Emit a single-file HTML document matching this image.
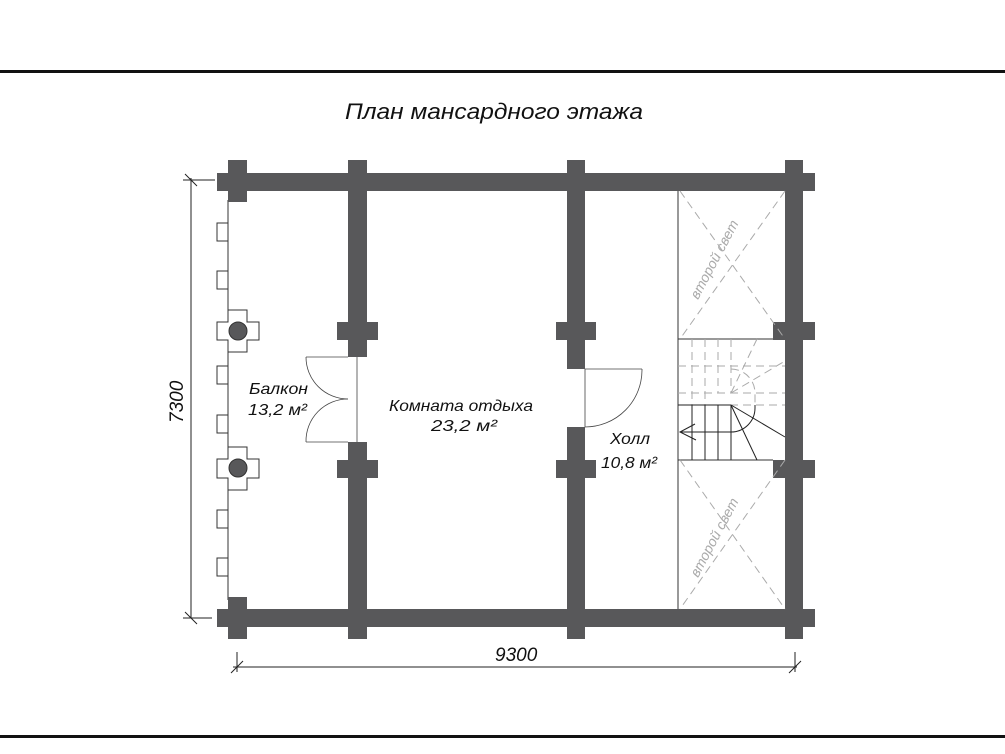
<!DOCTYPE html>
<html><head><meta charset="utf-8"><style>
html,body{margin:0;padding:0;background:#fff;}
svg{display:block;}
text{font-family:"Liberation Sans","DejaVu Sans",sans-serif;font-style:italic;fill:#111;}
</style></head><body>
<svg width="1005" height="754" viewBox="0 0 1005 754" xmlns="http://www.w3.org/2000/svg">
<rect x="0" y="70" width="1005" height="3" fill="#111"/>
<rect x="0" y="735" width="1005" height="3" fill="#111"/>
<text x="345" y="119" font-size="22" textLength="298" lengthAdjust="spacingAndGlyphs">План мансардного этажа</text>

<g stroke="#222" stroke-width="1" fill="none">
<line x1="191" y1="178" x2="191" y2="618"/>
<line x1="183" y1="180" x2="215" y2="180"/>
<line x1="183" y1="618" x2="212" y2="618"/>
<line x1="185" y1="174" x2="197" y2="186"/>
<line x1="185" y1="612" x2="197" y2="624"/>
<line x1="233" y1="667" x2="797" y2="667"/>
<line x1="237" y1="652" x2="237" y2="672"/>
<line x1="795" y1="652" x2="795" y2="672"/>
<line x1="231" y1="673" x2="243" y2="661"/>
<line x1="789" y1="673" x2="801" y2="661"/>
</g>
<text x="0" y="0" font-size="19" transform="translate(183,423) rotate(-90)">7300</text>
<text x="495" y="661" font-size="19">9300</text>

<g stroke="#333" stroke-width="1" fill="#fff">
<line x1="228" y1="200" x2="228" y2="600"/>
<rect x="217" y="223" width="11" height="18"/>
<rect x="217" y="271" width="11" height="18"/>
<rect x="217" y="366" width="11" height="18"/>
<rect x="217" y="415" width="11" height="18"/>
<rect x="217" y="510" width="11" height="18"/>
<rect x="217" y="558" width="11" height="18"/>
<path d="M228 310 H247 V322 H259 V340 H247 V352 H228 V340 H217 V322 H228 Z"/>
<path d="M228 447 H247 V459 H259 V478 H247 V490 H228 V478 H217 V459 H228 Z"/>
</g>
<circle cx="238" cy="331" r="9" fill="#58585a" stroke="#333"/>
<circle cx="238" cy="468" r="9" fill="#58585a" stroke="#333"/>

<g fill="#58585a">
<rect x="217" y="173" width="598" height="18"/>
<rect x="217" y="609" width="598" height="18"/>
<rect x="228" y="160" width="19" height="42"/>
<rect x="228" y="597" width="19" height="42"/>
<rect x="348" y="160" width="19" height="197"/>
<rect x="348" y="442" width="19" height="197"/>
<rect x="337" y="322" width="41" height="18"/>
<rect x="337" y="460" width="41" height="18"/>
<rect x="567" y="160" width="18" height="209"/>
<rect x="567" y="427" width="18" height="212"/>
<rect x="556" y="322" width="40" height="18"/>
<rect x="556" y="460" width="40" height="18"/>
<rect x="785" y="160" width="18" height="479"/>
<rect x="773" y="322" width="42" height="18"/>
<rect x="773" y="460" width="42" height="18"/>
</g>

<g stroke="#444" stroke-width="0.8" fill="none">
<line x1="357" y1="357" x2="357" y2="442"/>
<line x1="306" y1="357" x2="348" y2="357"/>
<line x1="306" y1="442" x2="348" y2="442"/>
<path d="M306 357 A42 42 0 0 0 348 399"/>
<path d="M306 442 A42 42 0 0 1 348 399"/>
<line x1="585" y1="369" x2="585" y2="427"/>
<line x1="585" y1="369" x2="642" y2="369"/>
<path d="M642 369 A57 57 0 0 1 585 427"/>
</g>

<g stroke="#333" stroke-width="1" fill="none">
<line x1="678" y1="191" x2="678" y2="609"/>
<line x1="678" y1="339" x2="773" y2="339"/>
<line x1="678" y1="460" x2="773" y2="460"/>
</g>
<g stroke="#aaa" stroke-width="1" fill="none" stroke-dasharray="8,5">
<line x1="680" y1="191" x2="785" y2="339"/>
<line x1="785" y1="191" x2="680" y2="339"/>
<line x1="680" y1="460" x2="785" y2="609"/>
<line x1="785" y1="460" x2="680" y2="609"/>
<line x1="692" y1="339" x2="692" y2="405"/>
<line x1="705" y1="339" x2="705" y2="405"/>
<line x1="718" y1="339" x2="718" y2="393"/>
<line x1="731" y1="339" x2="731" y2="393"/>
<line x1="678" y1="366" x2="785" y2="366"/>
<line x1="678" y1="393" x2="785" y2="393"/>
<line x1="678" y1="405" x2="785" y2="405"/>
<line x1="731" y1="393" x2="785" y2="361"/>
<line x1="731" y1="393" x2="757" y2="339"/>
<path d="M731 369 A24 24 0 0 1 755 393 L755 405"/>
</g>
<text font-size="14" style="fill:#aaa" transform="translate(698,300) rotate(-62)">второй свет</text>
<text font-size="14" style="fill:#aaa" transform="translate(698,578) rotate(-62)">второй свет</text>
<g stroke="#222" stroke-width="1" fill="none">
<line x1="678" y1="405" x2="731" y2="405"/>
<line x1="692" y1="405" x2="692" y2="460"/>
<line x1="705" y1="405" x2="705" y2="460"/>
<line x1="718" y1="405" x2="718" y2="460"/>
<line x1="731" y1="405" x2="731" y2="460"/>
<line x1="731" y1="405" x2="757" y2="460"/>
<line x1="731" y1="405" x2="785" y2="437"/>
<line x1="680" y1="432" x2="731" y2="432"/>
<path d="M731 432 A24 24 0 0 0 755 408 L755 405"/>
<path d="M695 424 L680 432 L696 440"/>
</g>

<text x="249" y="394" font-size="16" textLength="59" lengthAdjust="spacingAndGlyphs">Балкон</text>
<text x="248" y="415" font-size="16" textLength="59" lengthAdjust="spacingAndGlyphs">13,2 м²</text>
<text x="389" y="411" font-size="16" textLength="144" lengthAdjust="spacingAndGlyphs">Комната отдыха</text>
<text x="431" y="431" font-size="16" textLength="66" lengthAdjust="spacingAndGlyphs">23,2 м²</text>
<text x="610" y="444" font-size="16" textLength="40" lengthAdjust="spacingAndGlyphs">Холл</text>
<text x="601" y="468" font-size="16" textLength="56" lengthAdjust="spacingAndGlyphs">10,8 м²</text>
</svg>
</body></html>
